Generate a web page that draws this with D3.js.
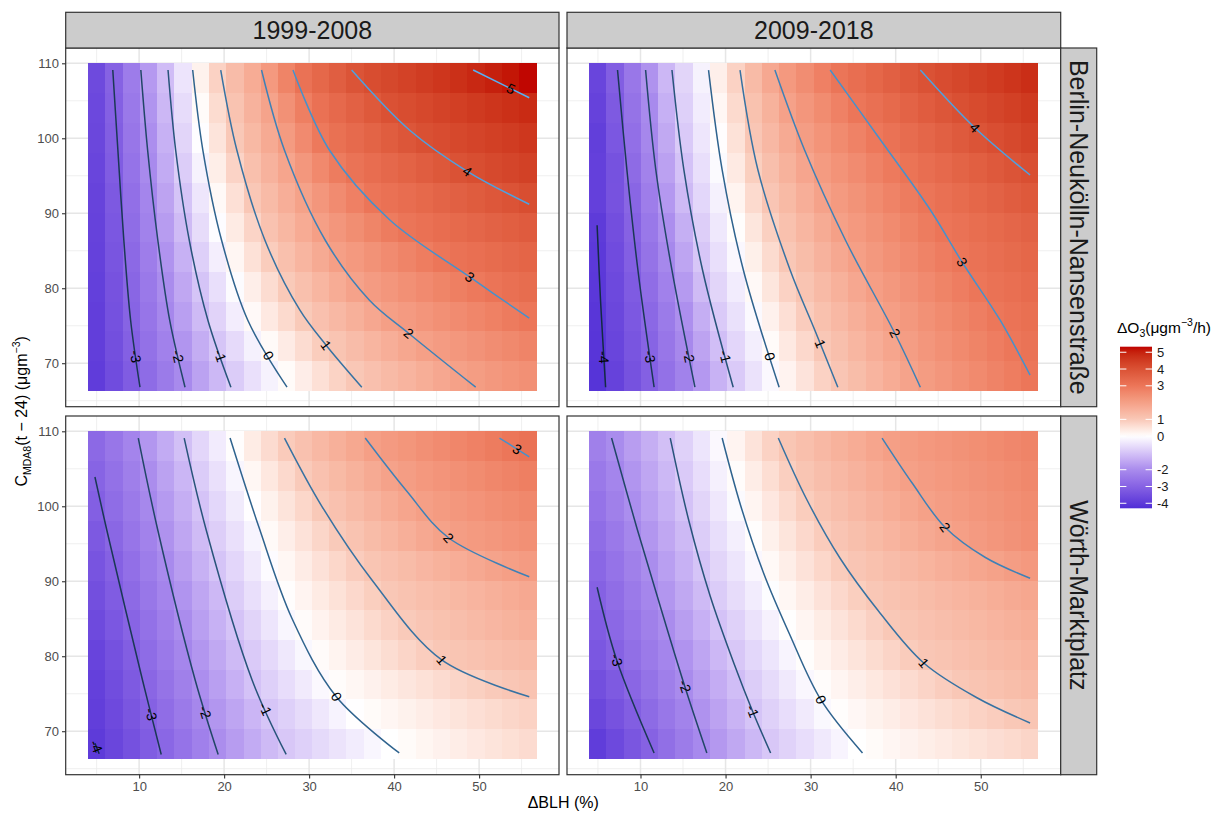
<!DOCTYPE html>
<html lang="de">
<head>
<meta charset="UTF-8" />
<title>ΔO3 vs ΔBLH</title>
<style>
  body { margin: 0; background: #ffffff; }
  svg { display: block; font-family: "Liberation Sans", Arial, sans-serif; }
</style>
</head>
<body>
<svg id="chart" width="1219" height="814"></svg>
<script src="https://cdn.jsdelivr.net/npm/d3@7"></script>
<script>
// facets
var periods = ["1999-2008", "2009-2018"];
var stations = ["Berlin-Neukölln-Nansenstraße", "Wörth-Marktplatz"];

// raster cell centres: ΔBLH (%) and C_MDA8(t-24), rows listed top to bottom
var blh = [5.0, 7.0, 9.1, 11.1, 13.1, 15.1, 17.2, 19.2, 21.2, 23.3, 25.3, 27.3, 29.3,
  31.4, 33.4, 35.4, 37.5, 39.5, 41.5, 43.6, 45.6, 47.6, 49.6, 51.7, 53.7, 55.7];
var cmda8 = [108.0, 104.0, 100.1, 96.1, 92.1, 88.1, 84.2, 80.2, 76.2, 72.3, 68.3];

// ΔO3 per cell
var berlin9908 = [
  [-3.61,-3.00,-2.36,-1.75,-1.13,-0.45,0.24,0.82,1.29,1.71,2.16,2.68,3.11,3.39,3.66,3.93,4.10,4.23,4.36,4.50,4.63,4.76,4.89,5.03,5.16,5.29],
  [-3.65,-3.06,-2.44,-1.84,-1.22,-0.58,0.08,0.64,1.13,1.54,1.92,2.36,2.80,3.13,3.35,3.57,3.80,4.01,4.11,4.22,4.33,4.43,4.54,4.65,4.75,4.85],
  [-3.69,-3.11,-2.51,-1.94,-1.33,-0.71,-0.03,0.49,1.00,1.38,1.75,2.12,2.52,2.94,3.15,3.33,3.51,3.69,3.87,4.03,4.12,4.22,4.31,4.41,4.50,4.60],
  [-3.72,-3.17,-2.58,-2.03,-1.44,-0.85,-0.21,0.31,0.79,1.20,1.54,1.88,2.21,2.55,2.87,3.09,3.24,3.38,3.53,3.68,3.83,3.97,4.08,4.19,4.29,4.39],
  [-3.78,-3.24,-2.68,-2.14,-1.57,-1.00,-0.42,0.11,0.56,1.02,1.33,1.64,1.95,2.24,2.50,2.76,3.02,3.13,3.25,3.37,3.49,3.60,3.72,3.84,3.96,4.08],
  [-3.79,-3.28,-2.74,-2.23,-1.70,-1.16,-0.59,-0.05,0.37,0.78,1.14,1.43,1.72,2.02,2.23,2.44,2.66,2.87,3.04,3.14,3.24,3.34,3.44,3.54,3.64,3.74],
  [-3.83,-3.34,-2.83,-2.34,-1.85,-1.33,-0.79,-0.28,0.16,0.55,0.91,1.20,1.47,1.74,2.01,2.17,2.34,2.50,2.67,2.84,3.00,3.10,3.19,3.29,3.38,3.48],
  [-3.86,-3.40,-2.91,-2.44,-1.98,-1.50,-1.00,-0.53,-0.07,0.30,0.63,0.97,1.21,1.46,1.70,1.94,2.11,2.24,2.38,2.52,2.66,2.80,2.93,3.06,3.16,3.26],
  [-3.89,-3.44,-2.97,-2.53,-2.09,-1.64,-1.18,-0.74,-0.30,0.10,0.39,0.68,0.97,1.19,1.39,1.60,1.81,2.01,2.13,2.26,2.38,2.50,2.63,2.75,2.88,3.00],
  [-3.90,-3.49,-3.06,-2.65,-2.24,-1.83,-1.40,-0.98,-0.62,-0.24,0.09,0.36,0.63,0.91,1.11,1.29,1.47,1.64,1.82,2.00,2.11,2.22,2.33,2.45,2.56,2.67],
  [-3.94,-3.56,-3.15,-2.77,-2.40,-2.02,-1.60,-1.21,-0.86,-0.52,-0.21,0.08,0.32,0.56,0.80,1.02,1.19,1.34,1.50,1.66,1.81,1.97,2.08,2.19,2.29,2.39]
];
var berlin0918 = [
  [-3.73,-3.12,-2.48,-1.87,-1.23,-0.70,-0.21,0.29,0.82,1.33,1.79,2.16,2.46,2.76,3.04,3.22,3.42,3.60,3.79,3.98,4.12,4.25,4.39,4.53,4.66,4.79],
  [-3.79,-3.21,-2.59,-2.03,-1.35,-0.80,-0.32,0.15,0.67,1.16,1.56,1.96,2.23,2.49,2.74,2.99,3.17,3.34,3.52,3.70,3.87,4.03,4.16,4.29,4.41,4.54],
  [-3.88,-3.29,-2.68,-2.09,-1.47,-0.89,-0.42,0.03,0.53,1.04,1.39,1.75,2.06,2.29,2.51,2.72,2.95,3.12,3.28,3.44,3.60,3.76,3.92,4.07,4.20,4.33],
  [-3.85,-3.41,-2.79,-2.21,-1.61,-1.03,-0.53,-0.09,0.38,0.88,1.23,1.55,1.86,2.12,2.31,2.50,2.71,2.90,3.07,3.22,3.36,3.50,3.64,3.79,3.92,4.06],
  [-3.84,-3.40,-2.91,-2.34,-1.76,-1.18,-0.67,-0.24,0.20,0.67,1.07,1.36,1.64,1.94,2.14,2.32,2.51,2.69,2.87,3.04,3.16,3.29,3.42,3.55,3.68,3.80],
  [-3.98,-3.50,-3.00,-2.47,-1.94,-1.37,-0.83,-0.39,0.04,0.46,0.86,1.18,1.45,1.73,2.00,2.17,2.34,2.51,2.68,2.86,3.02,3.12,3.23,3.34,3.44,3.55],
  [-4.02,-3.57,-3.09,-2.59,-2.08,-1.53,-0.96,-0.54,-0.13,0.28,0.66,1.03,1.28,1.54,1.79,2.02,2.20,2.36,2.52,2.69,2.85,3.01,3.11,3.22,3.32,3.42],
  [-4.04,-3.63,-3.19,-2.73,-2.24,-1.73,-1.16,-0.71,-0.31,0.11,0.46,0.81,1.10,1.35,1.58,1.81,2.04,2.20,2.35,2.52,2.68,2.83,2.99,3.10,3.20,3.30],
  [-4.08,-3.69,-3.27,-2.86,-2.40,-1.92,-1.38,-0.90,-0.51,-0.10,0.25,0.58,0.92,1.18,1.40,1.62,1.85,2.05,2.20,2.36,2.51,2.66,2.81,2.97,3.08,3.18],
  [-4.11,-3.74,-3.34,-2.96,-2.51,-2.07,-1.57,-1.10,-0.69,-0.29,0.08,0.39,0.70,1.02,1.23,1.45,1.67,1.88,2.07,2.23,2.38,2.53,2.68,2.83,2.98,3.09],
  [-4.14,-3.79,-3.41,-3.05,-2.64,-2.23,-1.76,-1.31,-0.89,-0.49,-0.11,0.21,0.50,0.81,1.07,1.28,1.50,1.70,1.92,2.10,2.24,2.39,2.54,2.70,2.84,2.99]
];
var worth9908 = [
  [-2.84,-2.51,-2.16,-1.81,-1.44,-1.07,-0.69,-0.33,0.03,0.35,0.65,0.95,1.17,1.39,1.59,1.80,2.01,2.13,2.25,2.38,2.50,2.62,2.74,2.87,2.99,3.11],
  [-2.97,-2.64,-2.30,-1.96,-1.60,-1.24,-0.86,-0.52,-0.17,0.15,0.42,0.69,0.96,1.17,1.36,1.55,1.75,1.94,2.07,2.18,2.28,2.39,2.49,2.60,2.70,2.80],
  [-3.08,-2.75,-2.41,-2.08,-1.73,-1.38,-1.02,-0.67,-0.34,-0.01,0.24,0.49,0.73,0.99,1.17,1.34,1.52,1.70,1.87,2.03,2.12,2.21,2.30,2.40,2.49,2.58],
  [-3.23,-2.89,-2.54,-2.21,-1.87,-1.52,-1.16,-0.83,-0.52,-0.19,0.09,0.30,0.52,0.74,0.96,1.13,1.30,1.46,1.62,1.79,1.95,2.06,2.14,2.22,2.30,2.38],
  [-3.37,-3.03,-2.68,-2.35,-2.02,-1.68,-1.33,-1.00,-0.69,-0.37,-0.06,0.15,0.34,0.54,0.73,0.92,1.08,1.19,1.31,1.44,1.55,1.67,1.79,1.91,2.02,2.11],
  [-3.49,-3.16,-2.82,-2.49,-2.16,-1.84,-1.52,-1.20,-0.85,-0.54,-0.25,0.03,0.19,0.37,0.53,0.70,0.88,1.02,1.12,1.22,1.31,1.41,1.50,1.60,1.70,1.79],
  [-3.61,-3.29,-2.95,-2.63,-2.31,-1.98,-1.65,-1.33,-1.02,-0.72,-0.44,-0.15,0.07,0.22,0.37,0.51,0.67,0.82,0.96,1.07,1.16,1.25,1.35,1.44,1.53,1.62],
  [-3.76,-3.44,-3.10,-2.77,-2.45,-2.13,-1.80,-1.49,-1.18,-0.89,-0.64,-0.39,-0.14,0.07,0.20,0.34,0.48,0.62,0.76,0.90,1.02,1.08,1.15,1.22,1.29,1.35],
  [-3.85,-3.54,-3.22,-2.90,-2.59,-2.27,-1.94,-1.64,-1.34,-1.03,-0.80,-0.57,-0.35,-0.11,0.05,0.15,0.25,0.35,0.45,0.55,0.65,0.76,0.86,0.96,1.04,1.12],
  [-3.90,-3.62,-3.32,-3.04,-2.73,-2.42,-2.09,-1.81,-1.53,-1.25,-0.98,-0.79,-0.60,-0.40,-0.20,-0.01,0.08,0.16,0.24,0.33,0.41,0.49,0.58,0.66,0.74,0.82],
  [-3.97,-3.71,-3.43,-3.16,-2.88,-2.58,-2.26,-1.96,-1.70,-1.44,-1.18,-0.95,-0.80,-0.63,-0.47,-0.31,-0.15,0.00,0.08,0.17,0.25,0.33,0.41,0.49,0.57,0.65]
];
var worth0918 = [
  [-2.28,-1.99,-1.68,-1.38,-1.09,-0.77,-0.44,-0.11,0.19,0.51,0.81,1.06,1.22,1.39,1.55,1.71,1.88,2.02,2.10,2.18,2.26,2.34,2.42,2.51,2.59,2.67],
  [-2.44,-2.14,-1.82,-1.52,-1.21,-0.90,-0.57,-0.25,0.05,0.33,0.60,0.87,1.08,1.24,1.39,1.54,1.70,1.85,2.00,2.09,2.17,2.25,2.33,2.41,2.49,2.57],
  [-2.58,-2.28,-1.95,-1.65,-1.35,-1.03,-0.71,-0.40,-0.09,0.18,0.43,0.67,0.91,1.10,1.24,1.39,1.54,1.68,1.83,1.98,2.07,2.15,2.24,2.32,2.40,2.49],
  [-2.74,-2.43,-2.11,-1.80,-1.50,-1.19,-0.85,-0.56,-0.26,0.03,0.26,0.48,0.70,0.93,1.09,1.23,1.36,1.50,1.63,1.77,1.90,2.03,2.13,2.23,2.33,2.43],
  [-2.88,-2.58,-2.27,-1.97,-1.65,-1.33,-1.00,-0.71,-0.43,-0.13,0.11,0.31,0.52,0.73,0.93,1.07,1.18,1.29,1.40,1.51,1.62,1.73,1.84,1.95,2.06,2.16],
  [-3.03,-2.73,-2.42,-2.12,-1.81,-1.49,-1.17,-0.86,-0.59,-0.31,-0.04,0.15,0.33,0.52,0.70,0.88,1.03,1.12,1.21,1.30,1.39,1.47,1.56,1.65,1.74,1.82],
  [-3.16,-2.87,-2.57,-2.28,-1.98,-1.67,-1.34,-1.03,-0.77,-0.49,-0.23,0.02,0.18,0.35,0.51,0.67,0.85,1.00,1.08,1.17,1.25,1.33,1.41,1.49,1.57,1.65],
  [-3.28,-3.00,-2.70,-2.42,-2.15,-1.85,-1.53,-1.23,-0.94,-0.68,-0.43,-0.18,0.04,0.20,0.34,0.49,0.64,0.78,0.93,1.04,1.11,1.19,1.26,1.34,1.41,1.49],
  [-3.49,-3.20,-2.90,-2.60,-2.30,-2.01,-1.70,-1.41,-1.12,-0.85,-0.61,-0.37,-0.13,0.06,0.18,0.30,0.42,0.54,0.65,0.78,0.90,1.02,1.10,1.18,1.26,1.34],
  [-3.69,-3.40,-3.10,-2.80,-2.49,-2.20,-1.87,-1.59,-1.30,-1.00,-0.78,-0.57,-0.35,-0.12,0.04,0.14,0.24,0.33,0.43,0.52,0.62,0.71,0.81,0.90,1.00,1.08],
  [-3.93,-3.63,-3.31,-3.01,-2.70,-2.38,-2.05,-1.77,-1.49,-1.21,-0.95,-0.76,-0.57,-0.37,-0.18,0.00,0.08,0.16,0.23,0.31,0.38,0.46,0.53,0.61,0.68,0.76]
];

// contour lines [ΔBLH, C] and where their labels sit
var berlin9908Contours = [
  { level: -3, label: [9.0, 70.8], pts: [[6.9, 109.1], [7.5, 98.4], [8.2, 86.4], [9.0, 75.7], [10.1, 66.8]] },
  { level: -2, label: [14.1, 70.8], pts: [[10.2, 109.1], [11.0, 98.4], [12.2, 86.4], [13.6, 75.7], [15.4, 66.8]] },
  { level: -1, label: [19.0, 70.8], pts: [[13.4, 109.1], [14.3, 98.4], [15.9, 86.4], [18.1, 75.7], [20.8, 66.8]] },
  { level: 0, label: [24.9, 70.8], pts: [[16.3, 109.1], [17.5, 98.4], [19.7, 86.4], [22.8, 75.7], [27.4, 66.8]] },
  { level: 1, label: [32.0, 72.4], pts: [[19.6, 109.1], [21.5, 98.4], [24.8, 86.4], [28.9, 77.1], [32.0, 72.4], [36.2, 66.8]] },
  { level: 2, label: [41.7, 74.0], pts: [[24.4, 109.1], [27.1, 98.4], [31.9, 86.4], [37.1, 78.4], [41.7, 74.0], [49.6, 66.8]] },
  { level: 3, label: [48.9, 81.5], pts: [[28.1, 109.1], [32.4, 98.4], [39.5, 89.1], [48.9, 81.5], [55.9, 76.0]] },
  { level: 4, label: [48.6, 95.6], pts: [[35.0, 109.1], [41.8, 101.1], [48.6, 95.6], [55.9, 91.2]] },
  { level: 5, label: [53.4, 105.8], pts: [[49.3, 109.1], [55.9, 105.4]] }
];
var berlin0918Contours = [
  { level: -4, label: [5.8, 70.8], pts: [[4.9, 88.4], [5.3, 78.4], [5.9, 66.8]] },
  { level: -3, label: [10.6, 70.8], pts: [[7.3, 109.1], [8.4, 95.8], [9.7, 82.4], [11.6, 66.8]] },
  { level: -2, label: [15.2, 70.8], pts: [[10.6, 109.1], [11.8, 95.8], [13.7, 82.4], [16.4, 66.8]] },
  { level: -1, label: [19.7, 70.8], pts: [[13.7, 109.1], [15.1, 95.8], [17.3, 82.4], [20.9, 66.8]] },
  { level: 0, label: [24.9, 70.8], pts: [[18.0, 109.1], [19.6, 95.8], [22.1, 82.4], [26.3, 66.8]] },
  { level: 1, label: [31.4, 72.7], pts: [[21.7, 109.1], [23.8, 95.8], [27.6, 82.4], [30.5, 74.4], [33.2, 66.8]] },
  { level: 2, label: [39.9, 74.0], pts: [[25.8, 109.1], [29.3, 98.4], [34.1, 86.4], [39.9, 74.0], [42.9, 66.8]] },
  { level: 3, label: [47.8, 83.5], pts: [[32.3, 109.1], [38.2, 99.8], [44.1, 90.4], [47.8, 83.5], [52.3, 75.7], [55.8, 68.4]] },
  { level: 4, label: [49.3, 101.4], pts: [[42.9, 109.1], [49.3, 101.4], [55.8, 95.1]] }
];
var worth9908Contours = [
  { level: -4, label: [5.0, 68.0], pts: [[4.8, 68.4], [5.3, 67.0]] },
  { level: -3, label: [11.2, 72.2], pts: [[4.8, 103.9], [6.2, 96.8], [10.4, 76.8], [12.6, 66.9]] },
  { level: -2, label: [17.4, 72.4], pts: [[9.9, 109.1], [12.2, 96.8], [16.6, 76.8], [19.3, 66.9]] },
  { level: -1, label: [24.2, 72.6], pts: [[15.3, 109.1], [17.9, 96.8], [23.3, 76.8], [27.3, 66.9]] },
  { level: 0, label: [33.2, 74.6], pts: [[20.7, 109.1], [24.1, 97.2], [28.0, 85.0], [33.2, 74.6], [40.6, 67.1]] },
  { level: 1, label: [45.6, 79.5], pts: [[27.1, 109.1], [31.5, 100.0], [37.5, 90.0], [45.6, 79.5], [55.9, 74.6]] },
  { level: 2, label: [46.4, 95.8], pts: [[36.6, 109.1], [41.5, 102.0], [46.4, 95.8], [55.9, 90.6]] },
  { level: 3, label: [54.2, 107.1], pts: [[52.4, 109.1], [55.9, 106.6]] }
];
var worth0918Contours = [
  { level: -3, label: [7.2, 79.5], pts: [[4.9, 89.2], [7.2, 79.5], [11.6, 67.1]] },
  { level: -2, label: [15.0, 75.9], pts: [[6.6, 109.1], [9.6, 97.0], [12.5, 86.0], [15.2, 76.0], [17.8, 67.1]] },
  { level: -1, label: [23.0, 72.6], pts: [[13.5, 109.1], [15.7, 98.0], [18.2, 88.0], [21.0, 79.0], [23.2, 72.6], [25.3, 67.1]] },
  { level: 0, label: [31.2, 74.2], pts: [[19.6, 109.1], [21.8, 100.0], [24.5, 91.0], [27.5, 83.0], [31.2, 74.2], [36.1, 67.1]] },
  { level: 1, label: [43.3, 79.1], pts: [[26.2, 109.1], [29.5, 101.0], [33.5, 93.0], [38.0, 86.0], [43.3, 79.1], [49.5, 74.5], [55.8, 71.1]] },
  { level: 2, label: [45.8, 97.2], pts: [[38.4, 109.1], [42.0, 103.0], [45.8, 97.2], [50.5, 93.2], [55.8, 90.4]] }
];

// axis ticks and legend breaks
var xMajor = [10, 20, 30, 40, 50];
var xMinor = [5, 15, 25, 35, 45, 55];
var yMajor = [70, 80, 90, 100, 110];
var yMinor = [65, 75, 85, 95, 105];
var legendBreaks = [5, 4, 3, 1, 0, -2, -3, -4];

var panels = [
  { row: 0, col: 0, grid: berlin9908, contours: berlin9908Contours },
  { row: 0, col: 1, grid: berlin0918, contours: berlin0918Contours },
  { row: 1, col: 0, grid: worth9908, contours: worth9908Contours },
  { row: 1, col: 1, grid: worth0918, contours: worth0918Contours }
];

// layout
var colX = [[65.7, 559], [567, 1060.7]];
var rowY = [[48, 406.7], [416, 774.7]];
var stripTop = 12.3;
var stripRight = 1096.7;

var fill = d3.scaleLinear()
  .domain([-4.3, -2, 0, 1, 3, 5.33])
  .range(["#4e2dd6", "#a98bed", "#ffffff", "#f9c8b7", "#ec7659", "#bf0000"])
  .interpolate(d3.interpolateLab);
var lineColour = d3.scaleLinear()
  .domain([-4, 5])
  .range(["#132B43", "#56B1F7"])
  .interpolate(d3.interpolateLab);

var svg = d3.select("#chart");
svg.append("rect").attr("width", 1219).attr("height", 814).attr("fill", "#fff");

var xs = colX.map(function (r) { return d3.scaleLinear().domain([1.36, 59.4]).range(r); });
var ys = rowY.map(function (r) { return d3.scaleLinear().domain([64.2, 112.04]).range([r[1], r[0]]); });

var dxCell = (blh[blh.length - 1] - blh[0]) / (blh.length - 1);
var dyCell = (cmda8[0] - cmda8[cmda8.length - 1]) / (cmda8.length - 1);

var contourLine = function (x, y) {
  return d3.line()
    .x(function (d) { return x(d[0]); })
    .y(function (d) { return y(d[1]); })
    .curve(d3.curveCatmullRom.alpha(0.5));
};

// nearest point on a polyline (screen coords) and its direction
function snap(pts, p) {
  var best = null;
  for (var i = 0; i < pts.length - 1; i++) {
    var a = pts[i], b = pts[i + 1];
    var vx = b[0] - a[0], vy = b[1] - a[1];
    var t = ((p[0] - a[0]) * vx + (p[1] - a[1]) * vy) / (vx * vx + vy * vy);
    t = Math.max(0, Math.min(1, t));
    var qx = a[0] + t * vx, qy = a[1] + t * vy;
    var dist = (qx - p[0]) * (qx - p[0]) + (qy - p[1]) * (qy - p[1]);
    if (!best || dist < best.d) best = { d: dist, x: qx, y: qy, ang: Math.atan2(vy, vx) * 180 / Math.PI };
  }
  if (best.ang > 90) best.ang -= 180;
  if (best.ang < -90) best.ang += 180;
  return best;
}

panels.forEach(function (p) {
  var x = xs[p.col], y = ys[p.row];
  var g = svg.append("g").attr("class", "panel");
  var x0 = colX[p.col][0], x1 = colX[p.col][1], y0 = rowY[p.row][0], y1 = rowY[p.row][1];

  // grid
  g.selectAll(".xminor").data(xMinor).enter().append("line")
    .attr("x1", function (d) { return x(d); }).attr("x2", function (d) { return x(d); })
    .attr("y1", y0).attr("y2", y1).attr("stroke", "#ebebeb").attr("stroke-width", 0.8);
  g.selectAll(".yminor").data(yMinor).enter().append("line")
    .attr("y1", function (d) { return y(d); }).attr("y2", function (d) { return y(d); })
    .attr("x1", x0).attr("x2", x1).attr("stroke", "#ebebeb").attr("stroke-width", 0.8);
  g.selectAll(".xmajor").data(xMajor).enter().append("line")
    .attr("x1", function (d) { return x(d); }).attr("x2", function (d) { return x(d); })
    .attr("y1", y0).attr("y2", y1).attr("stroke", "#e6e6e6").attr("stroke-width", 1.5);
  g.selectAll(".ymajor").data(yMajor.filter(function (d) { return y(d) > y0; })).enter().append("line")
    .attr("y1", function (d) { return y(d); }).attr("y2", function (d) { return y(d); })
    .attr("x1", x0).attr("x2", x1).attr("stroke", "#e6e6e6").attr("stroke-width", 1.5);

  // raster
  var cells = [];
  p.grid.forEach(function (row, r) {
    row.forEach(function (v, c) { cells.push({ bx: blh[c], cy: cmda8[r], v: v }); });
  });
  g.append("g").selectAll("rect").data(cells).enter().append("rect")
    .attr("x", function (d) { return x(d.bx - dxCell / 2); })
    .attr("y", function (d) { return y(d.cy + dyCell / 2); })
    .attr("width", function (d) { return x(d.bx + dxCell / 2) - x(d.bx - dxCell / 2) + 0.6; })
    .attr("height", function (d) { return y(d.cy - dyCell / 2) - y(d.cy + dyCell / 2) + 0.6; })
    .attr("fill", function (d) { return fill(d.v); })
    .attr("shape-rendering", "crispEdges");

  // contours
  var line = contourLine(x, y);
  g.append("g").selectAll("path").data(p.contours).enter().append("path")
    .attr("d", function (d) { return line(d.pts); })
    .attr("fill", "none")
    .attr("stroke", function (d) { return lineColour(d.level); })
    .attr("stroke-width", 1.5);

  g.append("g").selectAll("text").data(p.contours).enter().append("text")
    .each(function (d) {
      var scr = d.pts.map(function (q) { return [x(q[0]), y(q[1])]; });
      var s = snap(scr, [x(d.label[0]), y(d.label[1])]);
      d3.select(this)
        .attr("transform", "translate(" + s.x + "," + s.y + ") rotate(" + s.ang + ")")
        .attr("text-anchor", "middle")
        .attr("dy", "0.35em")
        .attr("font-size", 14)
        .attr("fill", "#000")
        .text(d.level);
    });

  // border
  g.append("rect").attr("x", x0).attr("y", y0).attr("width", x1 - x0).attr("height", y1 - y0)
    .attr("fill", "none").attr("stroke", "#333").attr("stroke-width", 1.2);
});

// strips on top
periods.forEach(function (name, i) {
  svg.append("rect").attr("x", colX[i][0]).attr("y", stripTop)
    .attr("width", colX[i][1] - colX[i][0]).attr("height", rowY[0][0] - stripTop)
    .attr("fill", "#cccccc").attr("stroke", "#333").attr("stroke-width", 1.2);
  svg.append("text").attr("x", (colX[i][0] + colX[i][1]) / 2).attr("y", (stripTop + rowY[0][0]) / 2)
    .attr("dy", "0.36em").attr("text-anchor", "middle").attr("font-size", 25).attr("fill", "#1a1a1a")
    .text(name);
});

// strips on the right
stations.forEach(function (name, j) {
  var sx = colX[1][1];
  svg.append("rect").attr("x", sx).attr("y", rowY[j][0])
    .attr("width", stripRight - sx).attr("height", rowY[j][1] - rowY[j][0])
    .attr("fill", "#cccccc").attr("stroke", "#333").attr("stroke-width", 1.2);
  var cx = (sx + stripRight) / 2, cy = (rowY[j][0] + rowY[j][1]) / 2;
  svg.append("text").attr("transform", "translate(" + cx + "," + cy + ") rotate(90)")
    .attr("dy", "0.36em").attr("text-anchor", "middle").attr("font-size", 25).attr("fill", "#1a1a1a")
    .text(name);
});

// x axes
colX.forEach(function (r, i) {
  var ax = d3.axisBottom(xs[i]).tickValues(xMajor).tickSize(3.7).tickPadding(3);
  var g = svg.append("g").attr("transform", "translate(0," + rowY[1][1] + ")").call(ax);
  g.select(".domain").remove();
  g.selectAll("line").attr("stroke", "#333").attr("stroke-width", 1.1);
  g.selectAll("text").attr("font-size", 13).attr("fill", "#4d4d4d").attr("font-family", "Liberation Sans, Arial, sans-serif");
});

// y axes
rowY.forEach(function (r, j) {
  var ay = d3.axisLeft(ys[j]).tickValues(yMajor).tickSize(3.7).tickPadding(3);
  var g = svg.append("g").attr("transform", "translate(" + colX[0][0] + ",0)").call(ay);
  g.select(".domain").remove();
  g.selectAll("line").attr("stroke", "#333").attr("stroke-width", 1.1);
  g.selectAll("text").attr("font-size", 13).attr("fill", "#4d4d4d").attr("font-family", "Liberation Sans, Arial, sans-serif");
});

// axis titles
svg.append("text").attr("x", (colX[0][0] + colX[1][1]) / 2).attr("y", 808)
  .attr("text-anchor", "middle").attr("font-size", 16).attr("fill", "#000").text("ΔBLH (%)");

var yt = svg.append("text").attr("transform", "translate(27," + (rowY[0][0] + rowY[1][1]) / 2 + ") rotate(-90)")
  .attr("text-anchor", "middle").attr("font-size", 16).attr("fill", "#000");
yt.append("tspan").text("C");
yt.append("tspan").attr("font-size", 10.5).attr("dy", 3.5).text("MDA8");
yt.append("tspan").attr("dy", -3.5).text("(t − 24) (μgm");
yt.append("tspan").attr("font-size", 10.5).attr("dy", -7).text("−3");
yt.append("tspan").attr("dy", 7).text(")");

// legend
var legTop = 346.7, legBottom = 508.3, legX = 1120, legW = 32;
var legScale = d3.scaleLinear().domain([-4.3, 5.33]).range([legBottom, legTop]);
var grad = svg.append("defs").append("linearGradient").attr("id", "o3grad")
  .attr("x1", 0).attr("x2", 0).attr("y1", 1).attr("y2", 0);
d3.range(0, 1.0001, 0.02).forEach(function (t) {
  var v = legScale.domain()[0] + t * (legScale.domain()[1] - legScale.domain()[0]);
  grad.append("stop").attr("offset", t).attr("stop-color", fill(v));
});
svg.append("rect").attr("x", legX).attr("y", legTop).attr("width", legW).attr("height", legBottom - legTop)
  .attr("fill", "url(#o3grad)");
legendBreaks.forEach(function (b) {
  var yy = legScale(b);
  svg.append("line").attr("x1", legX).attr("x2", legX + legW / 5).attr("y1", yy).attr("y2", yy)
    .attr("stroke", "#fff").attr("stroke-width", 1);
  svg.append("line").attr("x1", legX + legW - legW / 5).attr("x2", legX + legW).attr("y1", yy).attr("y2", yy)
    .attr("stroke", "#fff").attr("stroke-width", 1);
  svg.append("text").attr("x", legX + legW + 5).attr("y", yy).attr("dy", "0.36em")
    .attr("font-size", 13).attr("fill", "#1a1a1a").text(b);
});
var lt = svg.append("text").attr("x", 1117).attr("y", 333).attr("font-size", 15.5).attr("fill", "#000");
lt.append("tspan").text("ΔO");
lt.append("tspan").attr("font-size", 10.5).attr("dy", 3.5).text("3");
lt.append("tspan").attr("dy", -3.5).text("(μgm");
lt.append("tspan").attr("font-size", 10.5).attr("dy", -7).text("−3");
lt.append("tspan").attr("dy", 7).text("/h)");
</script>
</body>
</html>
